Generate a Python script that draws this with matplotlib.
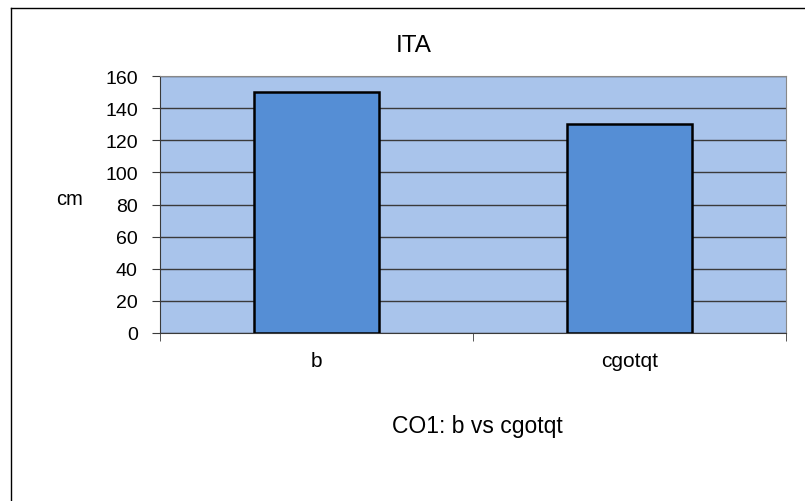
import matplotlib
matplotlib.use('Agg')
import matplotlib.pyplot as plt
from matplotlib.lines import Line2D

# chart data
categories = ['b', 'cgotqt']
values = [150, 130]
y_ticks = [0, 20, 40, 60, 80, 100, 120, 140, 160]

plt.rcParams['font.family'] = ['Liberation Sans', 'DejaVu Sans']

fig = plt.figure(figsize=(8.05, 5.02), dpi=100)
ax = fig.add_axes([160 / 805, 1 - 334 / 502, 626 / 805, 257 / 502])

# outer chart border (only left/top visible in the reference)
fig.add_artist(Line2D([11 / 805, 11 / 805], [0, 1 - 9 / 502], color='black', lw=1))
fig.add_artist(Line2D([11 / 805, 1], [1 - 9 / 502, 1 - 9 / 502], color='black', lw=1))

ax.set_facecolor('#A9C4EB')
ax.bar(range(len(categories)), values, width=0.4, color='#558ED5',
       edgecolor='black', linewidth=1.8, zorder=3)

ax.set_xlim(-0.5, len(categories) - 0.5)
ax.set_ylim(0, 160)
ax.set_yticks(y_ticks)
ax.yaxis.grid(True, color='#3a3a3a', linewidth=1, zorder=1)
ax.set_axisbelow(True)

ax.set_xticks(range(len(categories)))
ax.set_xticklabels(categories)
ax.set_xticks([-0.5, 0.5, 1.5], minor=True)
ax.tick_params(axis='x', which='major', length=0, pad=13, labelsize=15)
ax.tick_params(axis='x', which='minor', length=6, color='#3a3a3a')
ax.tick_params(axis='y', length=6, color='#3a3a3a', labelsize=14, pad=10)

ax.spines['top'].set_color('#888888')
ax.spines['right'].set_color('#888888')
ax.spines['left'].set_color('#3a3a3a')
ax.spines['bottom'].set_color('#3a3a3a')

fig.text(414 / 805, 1 - 46 / 502, 'ITA', ha='center', va='center', fontsize=17.5)
fig.text(70 / 805, 1 - 200 / 502, 'cm', ha='center', va='center', fontsize=14.5)
fig.text(477 / 805, 1 - 427 / 502, 'CO1: b vs cgotqt', ha='center', va='center', fontsize=16.5)

fig.savefig('out.png', dpi=100)
